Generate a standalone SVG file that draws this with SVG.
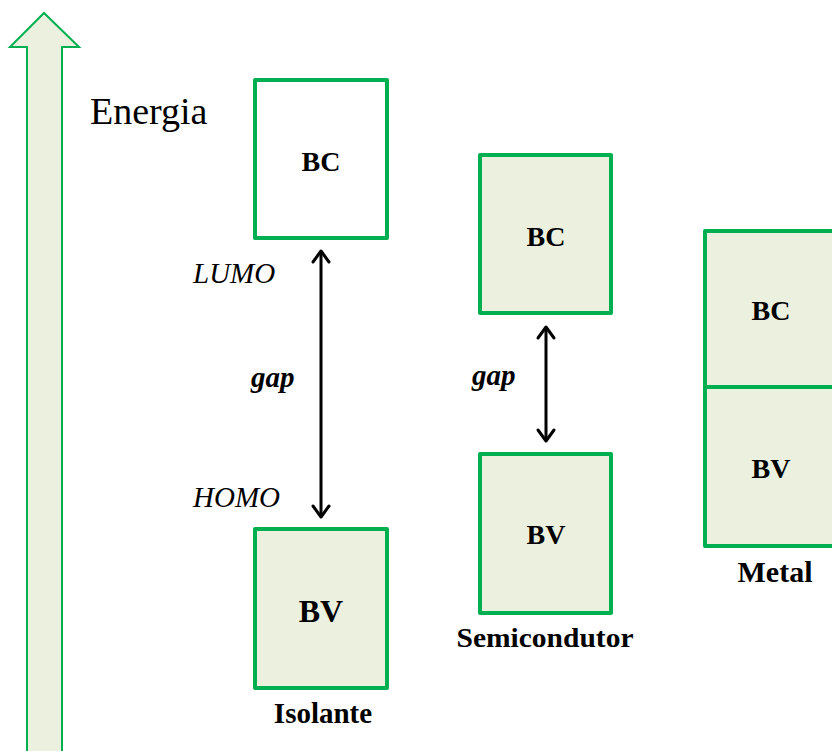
<svg xmlns="http://www.w3.org/2000/svg" width="832" height="751" viewBox="0 0 832 751">
<style>
.band{stroke:#00b050;stroke-width:4;stroke-linejoin:round}
.fill{fill:#ebf1de}
.empty{fill:#ffffff}
.t{font-family:"Liberation Serif","Times New Roman",serif;fill:#000}
.b{font-weight:bold;text-anchor:middle}
.i{font-style:italic}
.conn{stroke:#000;stroke-width:3;fill:none}
.head{stroke:#000;stroke-width:3;fill:none;stroke-linecap:round;stroke-linejoin:round}
</style>
<rect width="832" height="751" fill="#ffffff"/>
<g id="energy-axis">
<path d="M27,760 L27,47 L10,47 L44,13 L79,47 L62,47 L62,760 Z" fill="#ebf1de" stroke="#00b050" stroke-width="2"/>
<text class="t" x="90" y="124" font-size="38">Energia</text>
</g>
<g id="isolante-bc">
<rect class="band empty" x="255" y="80" width="132" height="158"/>
<text class="t b" x="321" y="171" font-size="28">BC</text>
</g>
<g id="isolante-bv">
<rect class="band fill" x="255" y="529" width="132" height="159"/>
<text class="t b" x="321" y="622" font-size="32">BV</text>
</g>
<g id="isolante-label">
<text class="t b" x="323" y="723" font-size="29">Isolante</text>
<text class="t i" x="193" y="283" font-size="29">LUMO</text>
<text class="t i" x="193" y="507" font-size="29">HOMO</text>
<text class="t i" x="251" y="387" font-size="29" font-weight="bold">gap</text>
</g>
<g id="semi-bc">
<rect class="band fill" x="480" y="155" width="131" height="158"/>
<text class="t b" x="546" y="246" font-size="28">BC</text>
</g>
<g id="semi-bv">
<rect class="band fill" x="480" y="454" width="131" height="159"/>
<text class="t b" x="546" y="544" font-size="28">BV</text>
</g>
<g id="semi-label">
<text class="t b" x="545" y="647" font-size="28" textLength="177" lengthAdjust="spacingAndGlyphs">Semicondutor</text>
<text class="t i" x="472" y="385" font-size="29" font-weight="bold">gap</text>
</g>
<g id="metal">
<rect class="band fill" x="705" y="231" width="150" height="156"/>
<rect class="band fill" x="705" y="387" width="150" height="159"/>
<text class="t b" x="771" y="320" font-size="28">BC</text>
<text class="t b" x="771" y="478" font-size="28">BV</text>
<text class="t b" x="775" y="582" font-size="30">Metal</text>
</g>
<g id="connectors">
<line class="conn" x1="321" y1="252" x2="321" y2="516"/>
<polyline class="head" points="313,262 321,251 329,262"/>
<polyline class="head" points="313,506 321,517 329,506"/>
<line class="conn" x1="546" y1="328" x2="546" y2="440"/>
<polyline class="head" points="538,338 546,327 554,338"/>
<polyline class="head" points="538,430 546,441 554,430"/>
</g>
</svg>
